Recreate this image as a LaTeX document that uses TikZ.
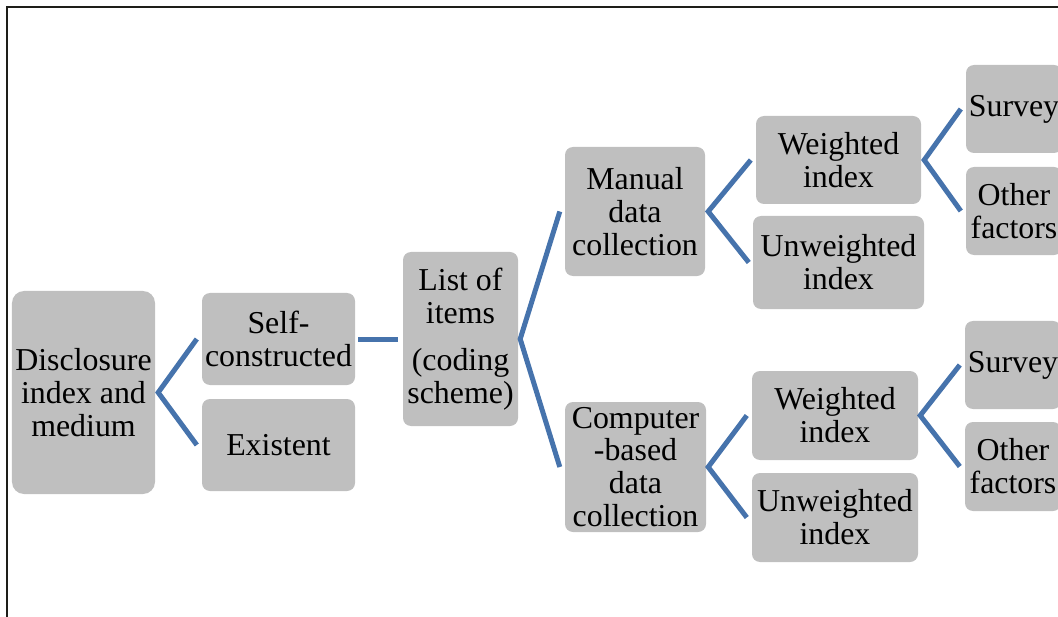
\documentclass[tikz,border=0pt]{standalone}
\usepackage{fontspec}
\setmainfont{Liberation Serif}
\definecolor{boxgray}{RGB}{191,191,191}
\definecolor{connblue}{RGB}{70,115,172}
\definecolor{frameblack}{RGB}{30,30,25}
\begin{document}
\begin{tikzpicture}[x=1bp,y=-1bp,
  gbox/.style={fill=boxgray,draw=none,rounded corners=8bp,inner sep=0pt,align=center,
    font=\fontsize{32}{33}\selectfont},
  conn/.style={draw=connblue,line width=5bp}]
\useasboundingbox (0,0) rectangle (1058,617);
\clip (0,0) rectangle (1058,617);
\draw[frameblack,line width=2bp] (7,617) -- (7,7) -- (1060,7);
% nodes
\node[gbox,minimum width=143bp,minimum height=203bp,rounded corners=12bp] (dis) at (83.5,392.5) {Disclosure\\index and\\medium};
\node[gbox,minimum width=153bp,minimum height=92bp] (self) at (278.5,339) {Self-\\constructed};
\node[gbox,minimum width=153bp,minimum height=92bp] (exist) at (278.5,445) {Existent};
\node[gbox,minimum width=115bp,minimum height=174bp] (list) at (460.5,339) {List of\\items\\[14bp](coding\\scheme)};
\node[gbox,minimum width=140bp,minimum height=129bp] (man) at (635,211.5) {Manual\\data\\collection};
\node[gbox,minimum width=141bp,minimum height=130bp] (comp) at (635.5,467) {Computer\\-based\\data\\collection};
\node[gbox,minimum width=165bp,minimum height=88bp] (w1) at (838.5,160) {Weighted\\index};
\node[gbox,minimum width=171bp,minimum height=93bp] (u1) at (838.5,262.5) {Unweighted\\index};
\node[gbox,minimum width=96bp,minimum height=88bp] (s1) at (1014,109) {Survey};
\node[gbox,minimum width=96bp,minimum height=88bp] (o1) at (1014,211) {Other\\factors};
\node[gbox,minimum width=166bp,minimum height=89bp] (w2) at (835,415.5) {Weighted\\index};
\node[gbox,minimum width=166bp,minimum height=89bp] (u2) at (835,517.5) {Unweighted\\index};
\node[gbox,minimum width=96bp,minimum height=88bp] (s2) at (1013,365) {Survey};
\node[gbox,minimum width=96bp,minimum height=89bp] (o2) at (1013,466.5) {Other\\factors};
% connectors
\draw[conn] ([xshift=-5bp]self.west) -- ([xshift=3bp]dis.east) -- ([xshift=-5bp]exist.west);
\draw[conn] ([xshift=3bp]self.east) -- ([xshift=-5bp]list.west);
\draw[conn] ([xshift=-5bp]man.west) -- ([xshift=2bp]list.east) -- ([xshift=-5bp]comp.west);
\draw[conn] ([xshift=-5bp]w1.west) -- ([xshift=3bp]man.east) -- ([xshift=-4bp]u1.west);
\draw[conn] ([xshift=-5bp]s1.west) -- ([xshift=3bp]w1.east) -- ([xshift=-5bp]o1.west);
\draw[conn] ([xshift=-5bp]w2.west) -- ([xshift=2bp]comp.east) -- ([xshift=-5bp]u2.west);
\draw[conn] ([xshift=-5bp]s2.west) -- ([xshift=2bp]w2.east) -- ([xshift=-5bp]o2.west);
\end{tikzpicture}
\end{document}
